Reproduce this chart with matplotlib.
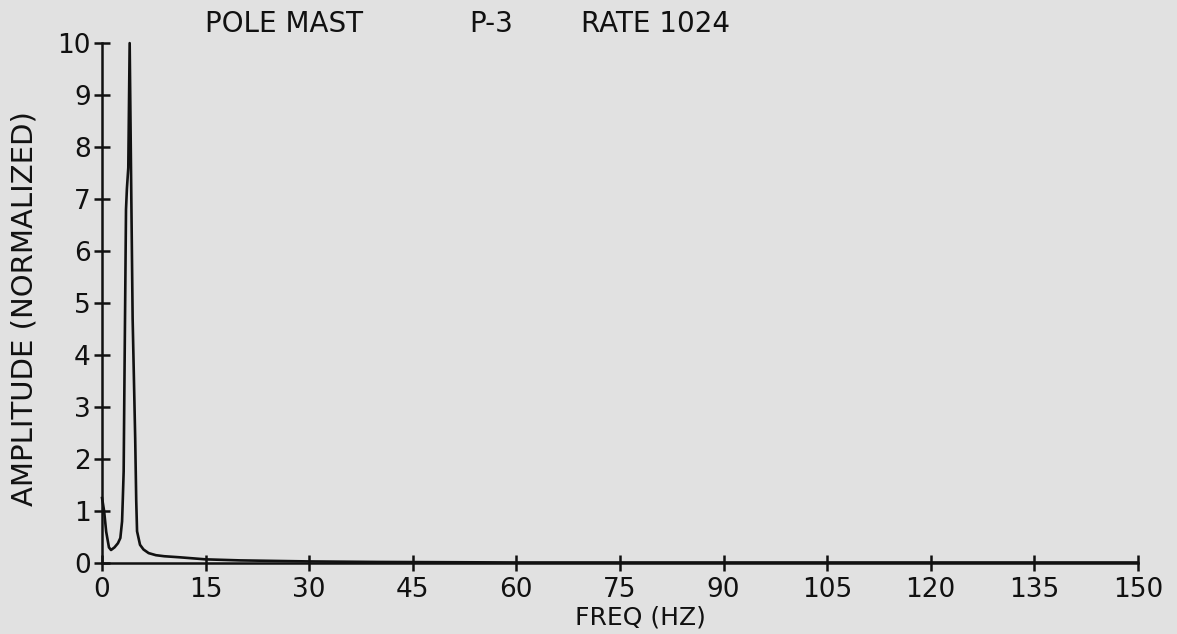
import matplotlib
matplotlib.use('Agg')
import matplotlib.pyplot as plt

# spectrum (Hz, normalized amplitude)
freq = [0.0, 0.3, 0.6, 1.0, 1.3, 1.8, 2.3, 2.65, 2.9, 3.0, 3.13, 3.23, 3.47, 3.6, 3.8,
        4.0, 4.2, 4.43, 4.8, 4.95, 5.07, 5.5, 6.0, 6.75, 7.8, 9.0, 11.2, 15.0, 20.0,
        25.0, 30.0, 40.0, 60.0, 90.0, 120.0, 150.0]
amp = [1.25, 1.0, 0.6, 0.3, 0.25, 0.3, 0.38, 0.48, 0.8, 1.2, 1.76, 3.3, 6.8, 7.2, 7.6,
       10.0, 7.5, 4.7, 2.4, 1.2, 0.61, 0.35, 0.26, 0.19, 0.15, 0.13, 0.11, 0.07, 0.05,
       0.04, 0.03, 0.02, 0.01, 0.01, 0.01, 0.01]

x_ticks = list(range(0, 151, 15))
y_ticks = list(range(0, 11))

BG = '#e1e1e1'
INK = '#111111'

plt.rcParams['font.family'] = ['DejaVu Sans']

fig = plt.figure(figsize=(11.77, 6.34), dpi=100, facecolor=BG)
ax = fig.add_axes([0.0867, 0.112, 0.880, 0.820])
ax.set_facecolor(BG)

ax.plot(freq, amp, color=INK, linewidth=1.9, solid_joinstyle='round', clip_on=False)

ax.set_xlim(0, 150)
ax.set_ylim(0, 10)
ax.set_xticks(x_ticks)
ax.set_yticks(y_ticks)
for s in ('top', 'right'):
    ax.spines[s].set_visible(False)
for s in ('left', 'bottom'):
    ax.spines[s].set_linewidth(1.8)
    ax.spines[s].set_color(INK)
ax.tick_params(direction='inout', length=12, width=1.8, color=INK,
               labelsize=19, labelcolor=INK)
ax.tick_params(axis='y', pad=2)
ax.tick_params(axis='x', pad=4)

ax.set_xlabel('FREQ (HZ)', fontsize=18, color=INK, va='center')
ax.xaxis.set_label_coords(0.52, -0.104)
ax.set_ylabel('AMPLITUDE (NORMALIZED)', fontsize=21, color=INK, va='center')
ax.yaxis.set_label_coords(-0.075, 0.49)

fig.text(0.174, 0.962, 'POLE MAST', fontsize=20, color=INK, va='center')
fig.text(0.399, 0.962, 'P-3', fontsize=20, color=INK, va='center')
fig.text(0.494, 0.962, 'RATE 1024', fontsize=20, color=INK, va='center')

fig.savefig('out.png', dpi=100, facecolor=BG)
